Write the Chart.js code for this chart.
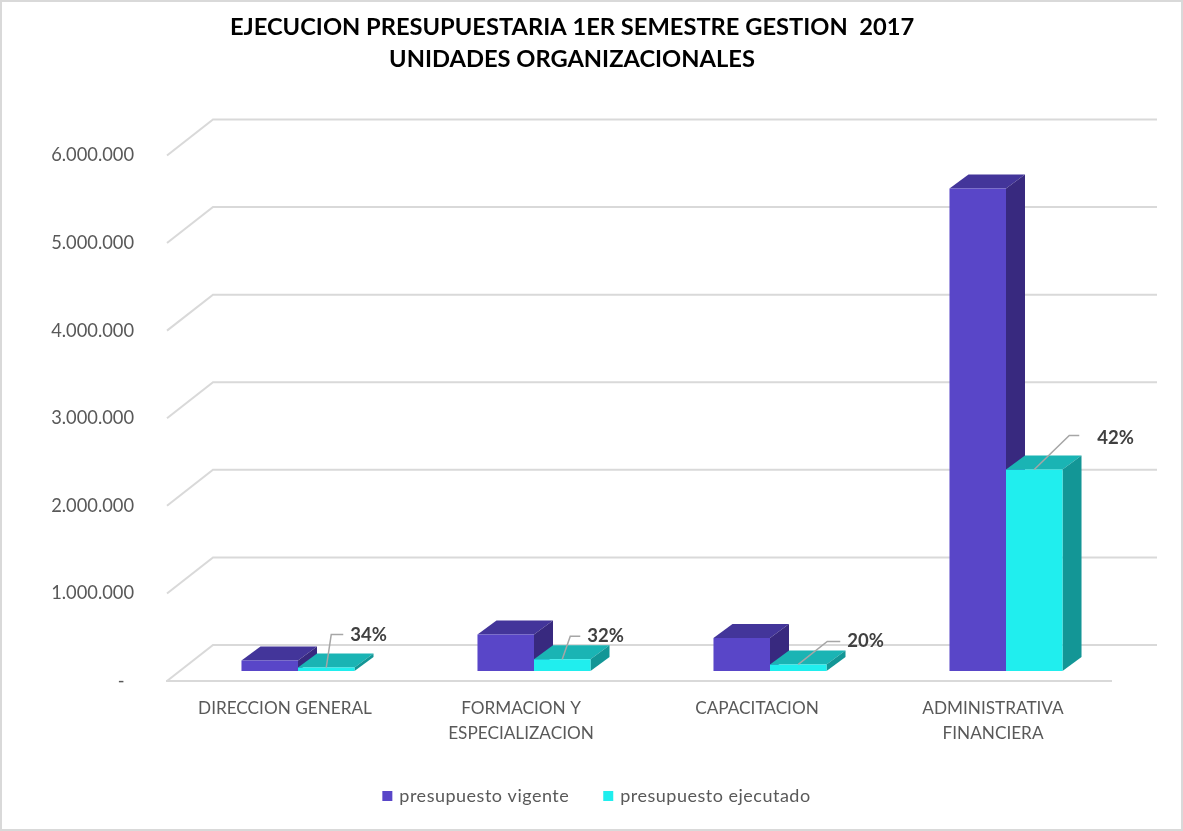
<!DOCTYPE html>
<html>
<head>
<meta charset="utf-8">
<style>
  html, body { margin: 0; padding: 0; background: #fff; }
  #wrap { position: relative; width: 1183px; height: 831px; }
</style>
<script src="https://cdn.jsdelivr.net/npm/chart.js@4"></script>
</head>
<body>
<div id="wrap"><canvas id="chart" width="1183" height="831"></canvas></div>
<script>
const categories = [
  "DIRECCION GENERAL",
  ["FORMACION Y", "ESPECIALIZACION"],
  "CAPACITACION",
  ["ADMINISTRATIVA", "FINANCIERA"]
];
const vigente = [120000, 416000, 376000, 5510000];
const ejecutado = [40000, 133000, 75000, 2300000];
const porcentajes = ["34%", "32%", "20%", "42%"];
const yTicks = ["-  ", "1.000.000", "2.000.000", "3.000.000", "4.000.000", "5.000.000", "6.000.000"];

// 3d look
const wallDx = 46, wallDy = 36;
const barDx = 19, barDy = 14;
const barShiftX = 13, barShiftY = 10;

// leader lines: elbow and text position, relative to the top of the cyan bar
const leaders = [
  { ex: 5, ey: -33, lx: 17, tx: 24, ty: -32 },
  { ex: 8, ey: -23, lx: 18, tx: 25, ty: -23 },
  { ex: 29, ey: -23, lx: 42, tx: 49, ty: -23 },
  { ex: 35, ey: -34, lx: 45, tx: 63, ty: -32 }
];

const sides = [
  { top: "#43359a", side: "#38297f" },
  { top: "#1ab4b4", side: "#139696" }
];

const wallPlugin = {
  id: "wall",
  afterLayout(chart) {
    // title and legend are not centred on the page in the original
    chart.titleBlock.right = 1144;
    const legend = chart.legend, draw = legend.draw;
    legend.left = 64;
    // legend text is spaced out a bit
    if (!legend.spaced) {
      legend.spaced = true;
      legend.draw = function () {
        chart.ctx.letterSpacing = "0.5px";
        draw.call(legend);
        chart.ctx.letterSpacing = "0px";
      };
    }
  },
  beforeDatasetsDraw(chart) {
    const { ctx, chartArea: a, scales: { y } } = chart;
    ctx.save();
    ctx.strokeStyle = "#d9d9d9";
    ctx.lineWidth = 2;
    y.ticks.forEach((t, i) => {
      const py = y.getPixelForTick(i);
      ctx.beginPath();
      ctx.moveTo(a.left, py);
      ctx.lineTo(a.left + wallDx, py - wallDy);
      ctx.lineTo(a.right + wallDx, py - wallDy);
      ctx.stroke();
    });
    ctx.restore();
  }
};

const bars3d = {
  id: "bars3d",
  // top and side faces go first, purple then cyan, so that cyan covers the purple side
  beforeDatasetsDraw(chart) {
    const { ctx } = chart;
    ctx.save();
    ctx.translate(barShiftX, -barShiftY);
    [0, 1].forEach(d => {
      chart.getDatasetMeta(d).data.forEach(bar => {
        const l = bar.x - bar.width / 2, r = bar.x + bar.width / 2;
        ctx.fillStyle = sides[d].top;
        ctx.beginPath();
        ctx.moveTo(l, bar.y);
        ctx.lineTo(l + barDx, bar.y - barDy);
        ctx.lineTo(r + barDx, bar.y - barDy);
        ctx.lineTo(r, bar.y);
        ctx.closePath();
        ctx.fill();
        ctx.fillStyle = sides[d].side;
        ctx.beginPath();
        ctx.moveTo(r, bar.y);
        ctx.lineTo(r + barDx, bar.y - barDy);
        ctx.lineTo(r + barDx, bar.base - barDy);
        ctx.lineTo(r, bar.base);
        ctx.closePath();
        ctx.fill();
      });
    });
    ctx.restore();
  },
  beforeDatasetDraw(chart) {
    chart.ctx.save();
    chart.ctx.translate(barShiftX, -barShiftY);
  },
  afterDatasetDraw(chart) {
    chart.ctx.restore();
  },
  afterDatasetsDraw(chart) {
    const { ctx } = chart;
    const meta = chart.getDatasetMeta(1);
    ctx.save();
    ctx.font = "bold 18.5px Lato";
    ctx.textBaseline = "middle";
    meta.data.forEach((bar, i) => {
      const x = bar.x + barShiftX, y = bar.y - barShiftY, p = leaders[i];
      ctx.strokeStyle = "#a6a6a6";
      ctx.lineWidth = 1.5;
      ctx.beginPath();
      ctx.moveTo(x, y);
      ctx.lineTo(x + p.ex, y + p.ey);
      ctx.lineTo(x + p.lx, y + p.ey);
      ctx.stroke();
      ctx.fillStyle = "#404040";
      ctx.fillText(porcentajes[i], x + p.tx, y + p.ty);
    });
    ctx.restore();
  }
};

const frame = {
  id: "frame",
  beforeDraw(chart) {
    const { ctx, width, height } = chart;
    ctx.save();
    ctx.fillStyle = "#fff";
    ctx.fillRect(0, 0, width, height);
    ctx.strokeStyle = "#d9d9d9";
    ctx.lineWidth = 2;
    ctx.strokeRect(1, 1, width - 2, height - 2);
    ctx.restore();
  }
};

new Chart(document.getElementById("chart"), {
  type: "bar",
  plugins: [frame, wallPlugin, bars3d],
  data: {
    labels: categories,
    datasets: [
      { label: "presupuesto vigente", data: vigente, backgroundColor: "#5946c8" },
      { label: "presupuesto ejecutado", data: ejecutado, backgroundColor: "#20eeee" }
    ]
  },
  options: {
    responsive: false,
    animation: false,
    categoryPercentage: 0.479,
    barPercentage: 1,
    layout: { padding: { top: 11, right: 72, bottom: 16, left: 0 } },
    plugins: {
      title: {
        display: true,
        text: ["EJECUCION PRESUPUESTARIA 1ER SEMESTRE GESTION  2017", "UNIDADES ORGANIZACIONALES"],
        color: "#000",
        font: { family: "Lato", size: 23.7, weight: "bold", lineHeight: 1.35 },
        padding: { top: 0, bottom: 80.5 }
      },
      legend: {
        position: "bottom",
        labels: {
          color: "#595959",
          font: { family: "Lato", size: 18 },
          usePointStyle: true,
          pointStyle: "rect",
          boxHeight: 6,
          pointStyleWidth: 6,
          padding: 36,
          // small box with a thick outline: the gap to the text is shorter that way
          generateLabels: c => Chart.defaults.plugins.legend.labels.generateLabels(c).map(l => ({
            ...l, lineWidth: 4, strokeStyle: l.fillStyle
          }))
        }
      },
      tooltip: { enabled: false }
    },
    scales: {
      x: {
        grid: { display: false },
        border: { display: true, color: "#d9d9d9", width: 2 },
        ticks: {
          color: "#595959",
          font: { family: "Lato", size: 17.2, lineHeight: 1.45 },
          maxRotation: 0,
          padding: 7
        },
        afterFit(s) { s.height = 70; }
      },
      y: {
        min: 0,
        max: 6000000,
        grid: { display: false },
        border: { display: false },
        afterFit(s) { s.width = 167; },
        ticks: {
          stepSize: 1000000,
          color: "#595959",
          font: { family: "Lato", size: 18.3 },
          padding: 25,
          callback: (v, i) => yTicks[i]
        }
      }
    }
  }
});
</script>
</body>
</html>
